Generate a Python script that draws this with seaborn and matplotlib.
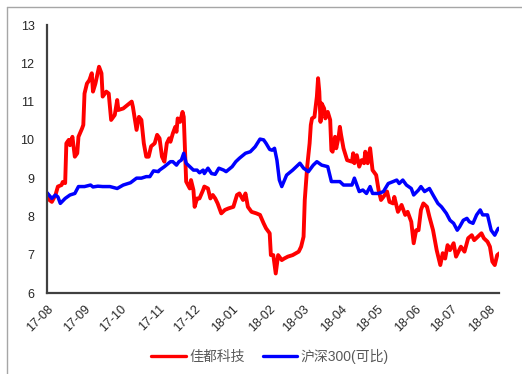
import matplotlib
matplotlib.use("Agg")
import matplotlib.pyplot as plt
from matplotlib.lines import Line2D
import seaborn as sns
import pandas as pd

# ---------------- data ----------------
red_label = "佳都科技"
blue_label = "沪深300(可比)"

red_dates = [
    "2017-08-01", "2017-08-03", "2017-08-05", "2017-08-08", "2017-08-10", "2017-08-13", "2017-08-14", "2017-08-16",
    "2017-08-17", "2017-08-19", "2017-08-20", "2017-08-22", "2017-08-24", "2017-08-26", "2017-08-27", "2017-08-30",
    "2017-08-31",
    "2017-09-01", "2017-09-03", "2017-09-05", "2017-09-07", "2017-09-08", "2017-09-10", "2017-09-13", "2017-09-15",
    "2017-09-16", "2017-09-19", "2017-09-21", "2017-09-23", "2017-09-26", "2017-09-28", "2017-09-29",
    "2017-10-03", "2017-10-10", "2017-10-11", "2017-10-14", "2017-10-16", "2017-10-18", "2017-10-20", "2017-10-22",
    "2017-10-24", "2017-10-26", "2017-10-29", "2017-10-31",
    "2017-11-02", "2017-11-04", "2017-11-06", "2017-11-08", "2017-11-10", "2017-11-11", "2017-11-13", "2017-11-15",
    "2017-11-16", "2017-11-17", "2017-11-19", "2017-11-21", "2017-11-22", "2017-11-24", "2017-11-27", "2017-11-28",
    "2017-11-30",
    "2017-12-01", "2017-12-03", "2017-12-05", "2017-12-08", "2017-12-09", "2017-12-12", "2017-12-14", "2017-12-16",
    "2017-12-18", "2017-12-20", "2017-12-23", "2017-12-26", "2017-12-29",
    "2018-01-02", "2018-01-05", "2018-01-07", "2018-01-10", "2018-01-12", "2018-01-14", "2018-01-17", "2018-01-21",
    "2018-01-24", "2018-01-27", "2018-01-29",
    "2018-02-01", "2018-02-02", "2018-02-04", "2018-02-06", "2018-02-08", "2018-02-11", "2018-02-13", "2018-02-16",
    "2018-02-20", "2018-02-25", "2018-02-27",
    "2018-03-01", "2018-03-02", "2018-03-04", "2018-03-06", "2018-03-07", "2018-03-08", "2018-03-10", "2018-03-12",
    "2018-03-13", "2018-03-14", "2018-03-15", "2018-03-16", "2018-03-18", "2018-03-19", "2018-03-21", "2018-03-23",
    "2018-03-24", "2018-03-25", "2018-03-27", "2018-03-28", "2018-03-30", "2018-03-31",
    "2018-04-01", "2018-04-03", "2018-04-06", "2018-04-10", "2018-04-11", "2018-04-12", "2018-04-14", "2018-04-16",
    "2018-04-18", "2018-04-20", "2018-04-21", "2018-04-23", "2018-04-25", "2018-04-27", "2018-04-30",
    "2018-05-02", "2018-05-04", "2018-05-06", "2018-05-09", "2018-05-11", "2018-05-14", "2018-05-15", "2018-05-18",
    "2018-05-21", "2018-05-24", "2018-05-26", "2018-05-29", "2018-05-31",
    "2018-06-02", "2018-06-04", "2018-06-06", "2018-06-08", "2018-06-11", "2018-06-13", "2018-06-16", "2018-06-19",
    "2018-06-22", "2018-06-24", "2018-06-26", "2018-06-28", "2018-06-30",
    "2018-07-03", "2018-07-05", "2018-07-07", "2018-07-09", "2018-07-12", "2018-07-15", "2018-07-18", "2018-07-20",
    "2018-07-23", "2018-07-26", "2018-07-28", "2018-07-31",
    "2018-08-02", "2018-08-04", "2018-08-06", "2018-08-08", "2018-08-10",
]
red_values = [
    8.6, 8.43, 8.38, 8.56, 8.78, 8.82, 8.9, 8.87, 9.91, 10.0, 9.86, 10.08, 9.56, 9.65, 10.08, 10.3, 10.39,
    11.21, 11.47, 11.56, 11.74, 11.26, 11.47, 11.91, 11.74, 11.13, 11.26, 11.21, 10.52, 10.65, 11.04, 10.78,
    10.82, 11.0, 10.86, 10.26, 10.6, 10.52, 9.91, 9.56, 9.56, 9.83, 9.91, 10.13,
    10.04, 9.56, 9.43, 9.91, 10.04, 9.95, 10.17, 10.34, 10.21, 10.56, 10.47, 10.73, 10.6, 8.91, 8.73, 8.95, 8.69,
    8.25, 8.47, 8.47, 8.69, 8.78, 8.73, 8.47, 8.56, 8.47, 8.34, 8.08, 8.17, 8.21,
    8.25, 8.56, 8.6, 8.43, 8.6, 8.25, 8.12, 8.08, 8.04, 7.82, 7.69,
    7.56, 6.99, 6.99, 6.51, 6.99, 6.86, 6.9, 6.95, 6.99, 7.08, 7.21,
    7.47, 8.43, 9.3, 9.91, 10.39, 10.56, 10.6, 11.13, 11.61, 11.26, 10.47, 10.95, 10.82, 10.56, 10.73, 10.52,
    9.73, 9.69, 10.08, 9.78, 10.08, 10.34,
    10.13, 9.78, 9.47, 9.43, 9.65, 9.39, 9.6, 9.3, 9.47, 9.39, 9.69, 9.39, 9.78, 9.21, 9.08,
    8.69, 8.43, 8.51, 8.65, 8.38, 8.34, 8.51, 8.12, 8.3, 8.04, 8.12, 7.86, 7.3,
    7.64, 7.64, 8.17, 8.34, 8.25, 7.99, 7.64, 7.12, 6.73, 7.04, 6.9, 7.25, 7.12,
    7.3, 6.95, 7.08, 7.21, 7.08, 7.43, 7.51, 7.38, 7.47, 7.56, 7.43, 7.34,
    7.21, 6.82, 6.73, 6.99, 7.04,
]

blue_dates = [
    "2017-08-01", "2017-08-05", "2017-08-08", "2017-08-10", "2017-08-12", "2017-08-16", "2017-08-20", "2017-08-24",
    "2017-08-27", "2017-08-30",
    "2017-09-01", "2017-09-06", "2017-09-08", "2017-09-12", "2017-09-16", "2017-09-22", "2017-09-28",
    "2017-10-03", "2017-10-09", "2017-10-14", "2017-10-18", "2017-10-22", "2017-10-25", "2017-10-28",
    "2017-11-01", "2017-11-02", "2017-11-06", "2017-11-11", "2017-11-13", "2017-11-16", "2017-11-18", "2017-11-20",
    "2017-11-22", "2017-11-24", "2017-11-27", "2017-11-30",
    "2017-12-03", "2017-12-05", "2017-12-08", "2017-12-09", "2017-12-12", "2017-12-15", "2017-12-18", "2017-12-21",
    "2017-12-25", "2017-12-27",
    "2018-01-01", "2018-01-04", "2018-01-07", "2018-01-12", "2018-01-16", "2018-01-20", "2018-01-24", "2018-01-27",
    "2018-01-29",
    "2018-02-01", "2018-02-03", "2018-02-05", "2018-02-07", "2018-02-09", "2018-02-11", "2018-02-15", "2018-02-20",
    "2018-02-26",
    "2018-03-01", "2018-03-05", "2018-03-09", "2018-03-12", "2018-03-16", "2018-03-21", "2018-03-24", "2018-03-28",
    "2018-03-31",
    "2018-04-03", "2018-04-10", "2018-04-12", "2018-04-16", "2018-04-19", "2018-04-22", "2018-04-25", "2018-04-27",
    "2018-05-02", "2018-05-06", "2018-05-10", "2018-05-14", "2018-05-17", "2018-05-19", "2018-05-22", "2018-05-25",
    "2018-05-29", "2018-05-31",
    "2018-06-04", "2018-06-06", "2018-06-09", "2018-06-13", "2018-06-16", "2018-06-20", "2018-06-23", "2018-06-27",
    "2018-06-30",
    "2018-07-03", "2018-07-06", "2018-07-08", "2018-07-11", "2018-07-14", "2018-07-16", "2018-07-19", "2018-07-22",
    "2018-07-25", "2018-07-27", "2018-07-31",
    "2018-08-03", "2018-08-06", "2018-08-08", "2018-08-09",
]
blue_values = [
    8.62, 8.47, 8.56, 8.51, 8.34, 8.47, 8.56, 8.6, 8.78, 8.78,
    8.78, 8.82, 8.77, 8.79, 8.78, 8.78, 8.73,
    8.82, 8.88, 9.0, 9.0, 9.04, 9.04, 9.19,
    9.17, 9.21, 9.3, 9.43, 9.43, 9.34, 9.43, 9.47, 9.65, 9.39, 9.3, 9.21,
    9.21, 9.14, 9.21, 9.12, 9.26, 9.12, 9.1, 9.26, 9.21, 9.17,
    9.3, 9.43, 9.52, 9.65, 9.69, 9.82, 10.02, 10.0, 9.91,
    9.75, 9.73, 9.78, 9.47, 8.95, 8.78, 9.08, 9.21, 9.39,
    9.26, 9.17, 9.34, 9.43, 9.34, 9.3, 8.91, 8.91, 8.91,
    8.82, 8.82, 9.0, 8.65, 8.69, 8.6, 8.78, 8.6,
    8.6, 8.65, 8.86, 8.91, 8.95, 8.86, 8.95, 8.82, 8.73, 8.56,
    8.69, 8.78, 8.65, 8.73, 8.56, 8.34, 8.25, 8.08, 7.9,
    7.82, 7.64, 7.73, 7.9, 7.95, 7.86, 7.82, 8.04, 8.17, 8.04, 8.04,
    7.64, 7.51, 7.64, 7.69,
]

x_tick_dates = ["2017-08-01", "2017-09-01", "2017-10-01", "2017-11-01", "2017-12-01", "2018-01-01", "2018-02-01",
                "2018-03-01", "2018-04-01", "2018-05-01", "2018-06-01", "2018-07-01", "2018-08-01"]
x_tick_labels = ["17-08", "17-09", "17-10", "17-11", "17-12", "18-01", "18-02",
                 "18-03", "18-04", "18-05", "18-06", "18-07", "18-08"]
y_ticks = [6, 7, 8, 9, 10, 11, 12, 13]

# ---------------- plot ----------------
sns.set_style("white")
plt.rcParams["font.family"] = ["Liberation Sans", "Noto Sans CJK SC", "DejaVu Sans"]

W, H = 522, 374
fig = plt.figure(figsize=(W / 100, H / 100), dpi=100)
ax = fig.add_axes([47 / W, 1 - 293 / H, (499 - 47) / W, (293 - 25) / H])

red_df = pd.DataFrame({"date": pd.to_datetime(red_dates), "value": red_values})
blue_df = pd.DataFrame({"date": pd.to_datetime(blue_dates), "value": blue_values})

sns.lineplot(data=red_df, x="date", y="value", ax=ax, color="#FF0000", linewidth=2.8,
             label=red_label, estimator=None, sort=False)
sns.lineplot(data=blue_df, x="date", y="value", ax=ax, color="#0000FF", linewidth=2.5,
             label=blue_label, estimator=None, sort=False)

ax.set_xlim(pd.Timestamp("2017-08-01"), pd.Timestamp("2018-08-09 12:00"))
ax.set_ylim(6, 13)
ax.set_yticks(y_ticks)
ax.set_yticklabels([str(v) for v in y_ticks])
ax.set_xticks(pd.to_datetime(x_tick_dates))
ax.set_xticklabels(x_tick_labels, rotation=45, ha="right", va="top", rotation_mode="anchor")
ax.set_xlabel("")
ax.set_ylabel("")

for side in ["top", "right"]:
    ax.spines[side].set_visible(False)
for side in ["left", "bottom"]:
    ax.spines[side].set_color("#404040")
    ax.spines[side].set_linewidth(1.6)

ax.tick_params(axis="both", direction="out", length=3, width=1.4, color="#404040",
               labelsize=9, labelcolor="#262626")
ax.tick_params(axis="y", pad=6)
ax.tick_params(axis="x", pad=4)
ax.grid(False)

ax.legend_.remove()
handles = [Line2D([], [], color="#FF0000", linewidth=2.4),
           Line2D([], [], color="#0000FF", linewidth=2.4)]
fig.legend(handles, [red_label, blue_label], loc="center", bbox_to_anchor=(270 / W, 1 - 356 / H),
           ncol=2, frameon=False, fontsize=10, handlelength=2.5, handletextpad=0.25,
           columnspacing=1.3, labelcolor="#595959")

# outer border (left and top only visible)
border_color = "#a6a6a6"
fig.add_artist(Line2D([7 / W, 7 / W], [0, 1 - 7 / H], transform=fig.transFigure, color=border_color, linewidth=1))
fig.add_artist(Line2D([7 / W, 1], [1 - 7 / H, 1 - 7 / H], transform=fig.transFigure, color=border_color, linewidth=1))

fig.savefig("out.png", dpi=100)
